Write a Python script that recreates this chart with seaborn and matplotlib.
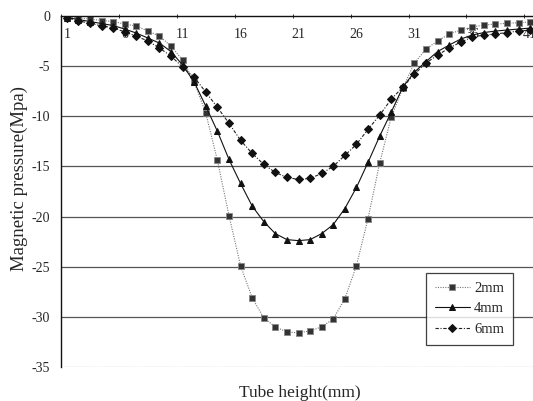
import numpy as np
import pandas as pd
import seaborn as sns
import matplotlib.pyplot as plt

# tube height positions (category index) and pressures
heights = list(range(1, 42))

p_2mm = [-0.1, -0.2, -0.3, -0.45, -0.55, -0.8, -1.0, -1.5, -2.0, -3.0,
         -4.4, -6.6, -9.7, -14.4, -19.9, -24.9, -28.1, -30.1, -31.0, -31.5,
         -31.6, -31.4, -31.0, -30.2, -28.2, -24.9, -20.2, -14.7, -10.1, -7.2,
         -4.7, -3.3, -2.5, -1.8, -1.4, -1.1, -0.9, -0.8, -0.73, -0.67, -0.6]

p_4mm = [-0.15, -0.35, -0.55, -0.75, -0.95, -1.3, -1.7, -2.2, -2.7, -3.55,
         -4.9, -6.6, -9.0, -11.5, -14.3, -16.7, -18.95, -20.5, -21.7, -22.3,
         -22.4, -22.3, -21.7, -20.8, -19.2, -17.1, -14.6, -12.0, -9.6, -7.1,
         -5.6, -4.55, -3.55, -2.9, -2.3, -1.9, -1.65, -1.5, -1.4, -1.3, -1.2]

p_6mm = [-0.2, -0.5, -0.7, -1.0, -1.15, -1.6, -2.0, -2.5, -3.2, -4.0,
         -5.1, -6.1, -7.6, -9.1, -10.7, -12.4, -13.7, -14.8, -15.6, -16.1,
         -16.3, -16.2, -15.7, -15.0, -13.9, -12.8, -11.3, -9.9, -8.3, -7.1,
         -5.8, -4.7, -3.9, -3.2, -2.6, -2.1, -1.9, -1.8, -1.65, -1.5, -1.4]

xtick_labels = ["1", "6", "11", "16", "21", "26", "31", "36", "41"]
ytick_values = [0, -5, -10, -15, -20, -25, -30, -35]

sns.set_style("white")
plt.rcParams['font.family'] = ['Liberation Serif', 'DejaVu Serif']

fig = plt.figure(figsize=(5.33, 4.01), dpi=100)
ax = fig.add_axes([61 / 533, 1 - 367 / 401, 475 / 533, 351 / 401])

df = pd.DataFrame({"h": heights, "2mm": p_2mm, "4mm": p_4mm, "6mm": p_6mm})

# horizontal grid lines
for v in ytick_values[1:-1]:
    ax.axhline(v, color="#555555", lw=0.9, zorder=0)
ax.axhline(-35, color="#777777", lw=0.9, ls=(0, (1, 1)), zorder=0)

sns.lineplot(data=df, x="h", y="2mm", ax=ax, color="#777777", lw=0.8,
             linestyle=(0, (1, 1.2)), marker="s", markersize=4.8,
             markerfacecolor="#333333", markeredgecolor="#888888",
             markeredgewidth=0.6, label="2mm")
sns.lineplot(data=df, x="h", y="4mm", ax=ax, color="#111111", lw=0.8,
             linestyle="-", marker="^", markersize=5,
             markerfacecolor="#111111", markeredgecolor="#111111",
             label="4mm")
sns.lineplot(data=df, x="h", y="6mm", ax=ax, color="#222222", lw=0.8,
             linestyle=(0, (3, 1.5, 1, 1.5)), marker="D", markersize=3.8,
             markerfacecolor="#111111", markeredgecolor="#111111",
             label="6mm")

ax.set_xlim(0.5, 41.5)
ax.set_ylim(-35, 0)

# x axis sits at the top (y = 0) with labels just under it
ax.spines['bottom'].set_position(('data', 0))
ax.spines['top'].set_visible(False)
ax.spines['right'].set_visible(False)
for s in ['left', 'bottom']:
    ax.spines[s].set_color("#111111")
    ax.spines[s].set_linewidth(1.0)

ax.set_xticks(list(range(1, 42, 5)))
ax.set_xticklabels(xtick_labels, fontsize=10)
ax.set_xticks(np.arange(0.5, 42, 5), minor=True)
ax.tick_params(axis='x', which='major', length=0, pad=9)
ax.tick_params(axis='x', which='minor', length=3, direction='inout',
               color="#111111", bottom=True)

ax.set_yticks(ytick_values)
ax.set_yticklabels([str(v) for v in ytick_values], fontsize=10)
ax.tick_params(axis='y', length=0, pad=8)

ax.set_xlabel("Tube height(mm)", fontsize=12.5)
ax.xaxis.set_label_coords(0.503, -0.052)
ax.set_ylabel("Magnetic pressure(Mpa)", fontsize=13.5)
ax.yaxis.set_label_coords(-0.069, 0.538)

leg = ax.legend(loc="upper left", bbox_to_anchor=(365 / 475, (367 - 273) / 351),
                borderaxespad=0, fontsize=10.5, frameon=True, fancybox=False,
                handlelength=2.4, handletextpad=0.3, borderpad=0.6,
                labelspacing=0.5)
leg.get_frame().set_edgecolor("#111111")
leg.get_frame().set_linewidth(0.9)

fig.savefig("out.png", dpi=100)
